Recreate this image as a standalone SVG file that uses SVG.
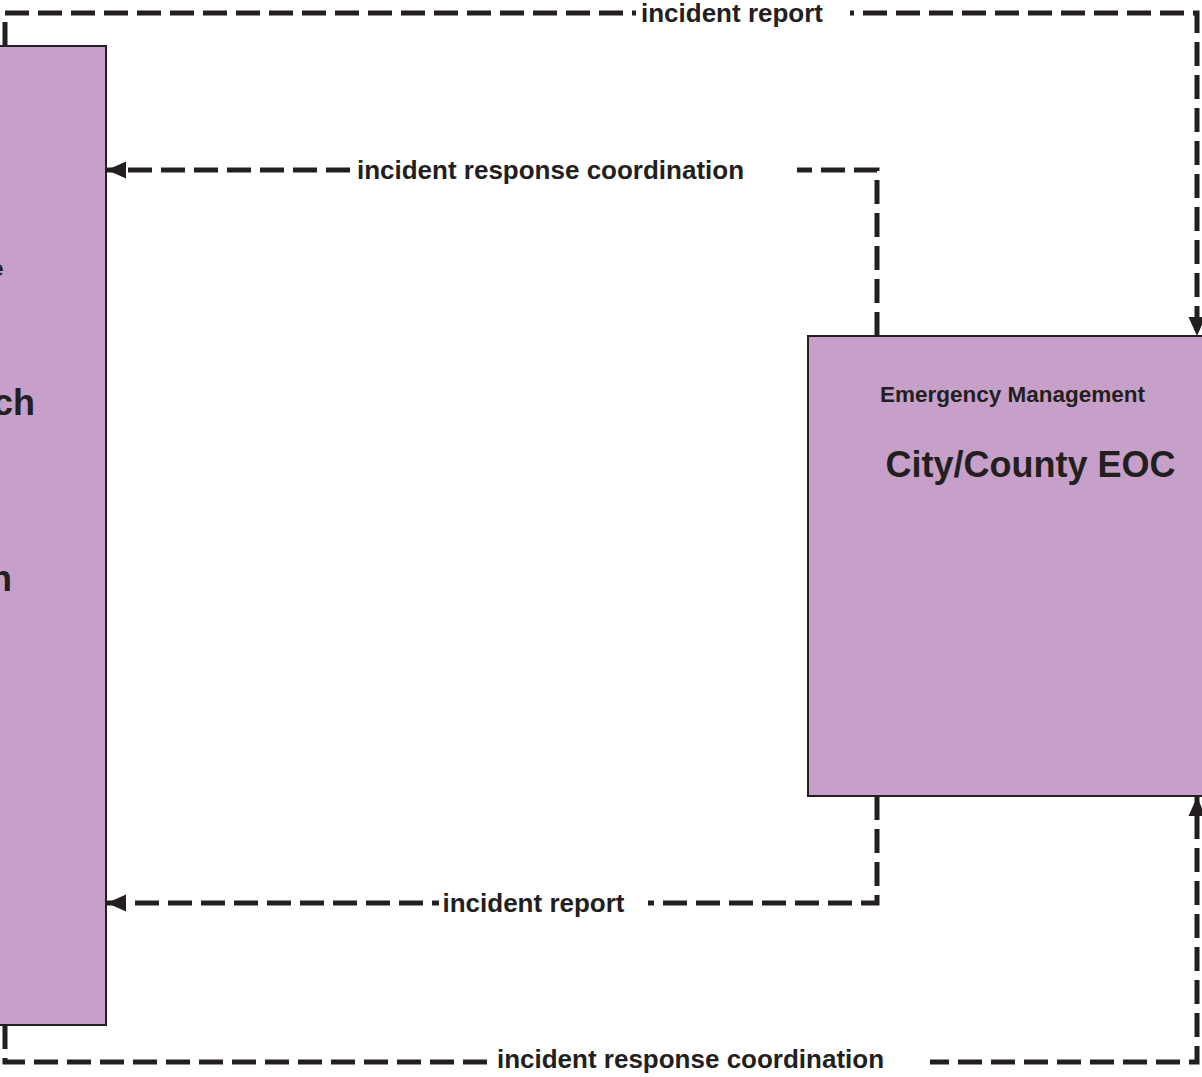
<svg xmlns="http://www.w3.org/2000/svg" width="1202" height="1077" viewBox="0 0 1202 1077">
<defs>
<style>
.node{fill:#C6A0C9;stroke:#231F20;stroke-width:2}
.conn{fill:none;stroke:#231F20;stroke-width:5;stroke-dasharray:24 9}
.lbl{font-family:"Liberation Sans",Arial,sans-serif;font-weight:bold;font-size:26px;fill:#231F20;text-anchor:middle}
.bg{fill:#FFFFFF}
.t1{font-family:"Liberation Sans",Arial,sans-serif;font-weight:bold;font-size:22.5px;fill:#231F20}
.t2{font-family:"Liberation Sans",Arial,sans-serif;font-weight:bold;font-size:36px;fill:#231F20}
</style>
<marker id="arr" markerUnits="userSpaceOnUse" markerWidth="19" markerHeight="19" viewBox="0 0 19 19" refX="19" refY="9.5" orient="auto">
<path d="M0,1 L19,9.5 L0,18 z" fill="#231F20"/>
</marker>
</defs>
<g id="node-left">
<rect class="node" x="-20" y="46" width="126" height="979"/>
<text class="t1" x="3.5" y="276" text-anchor="end">e</text>
<text class="t2" x="35" y="415" text-anchor="end">ch</text>
<text class="t2" x="12" y="591" text-anchor="end">n</text>
</g>
<g id="node-eoc">
<rect class="node" x="808" y="336" width="460" height="460"/>
<text class="t1" x="1012.5" y="402" text-anchor="middle">Emergency Management</text>
<text class="t2" x="1030.5" y="477" text-anchor="middle">City/County EOC</text>
</g>
<g id="connectors">
<path class="conn" d="M5,46 L5,13 L1197,13 L1197,336" marker-end="url(#arr)"/>
<rect class="bg" x="636" y="0" width="214" height="28"/>
<text class="lbl" x="732" y="22">incident report</text>
<path class="conn" d="M877,336 L877,170 L107,170" marker-end="url(#arr)"/>
<rect class="bg" x="350" y="156" width="447" height="28"/>
<text class="lbl" x="550.5" y="179">incident response coordination</text>
<path class="conn" d="M877,796 L877,903 L107,903" marker-end="url(#arr)"/>
<rect class="bg" x="439" y="889" width="209" height="28"/>
<text class="lbl" x="533.5" y="912">incident report</text>
<path class="conn" d="M5,1025 L5,1062 L1197,1062 L1197,797" marker-end="url(#arr)"/>
<rect class="bg" x="493" y="1048" width="437" height="28"/>
<text class="lbl" x="690.5" y="1068">incident response coordination</text>
</g>
</svg>
